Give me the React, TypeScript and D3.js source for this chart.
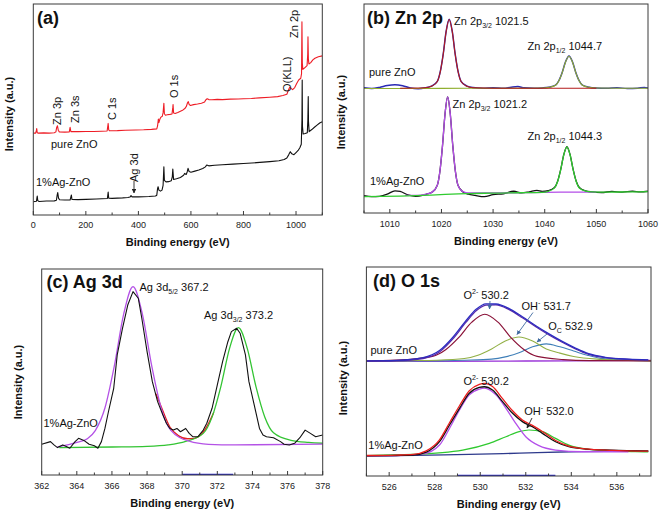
import React from 'react';
import * as d3 from 'd3';

type Pt = [number, number];

// ---------------- (a) survey spectra ----------------
const surveyTicks = [0, 200, 400, 600, 800, 1000];
const surveyMinor = [100, 300, 500, 700, 900, 1100];
const surveyPure: Pt[] = [
  [0,38.7],[5,38.9],[9,38.8],[12,40.2],[13,41.0],[15,39.0],[18,38.8],[40,38.9],[60,38.8],[80,39.0],[86,39.4],[89,41.5],[92,42.3],[95,40.2],[99,39.4],
  [120,39.3],[137,39.4],[140,41.6],[143,39.5],[170,39.5],[200,39.6],[230,39.6],[260,39.7],[281,39.8],[284,42.5],[285,43.4],[287,40.4],[290,39.9],
  [320,40.0],[350,40.2],[390,40.3],[420,40.4],[450,40.6],[470,40.8],[473,42.2],[476,45.5],[478,43.8],[482,45.5],[486,46.4],[491,46.8],[494,48.5],
  [497,52.9],[499,48.0],[503,47.3],[510,47.5],[520,47.7],[528,47.9],[531,51.0],[532,52.4],[534,48.3],[540,48.1],[550,48.6],[560,49.2],[570,49.8],
  [578,50.6],[583,51.6],[587,53.2],[590,53.7],[593,52.4],[598,51.9],[610,52.3],[625,52.6],[640,53.0],[652,53.6],[657,54.6],[662,55.1],[668,54.7],
  [680,54.6],[700,54.8],[720,54.7],[750,54.9],[780,55.0],[800,55.1],[830,55.2],[860,55.5],[900,55.8],[930,56.1],[950,56.6],[965,57.2],[972,59.5],
  [976,60.6],[981,60.0],[987,59.4],[995,60.4],[1002,62.2],[1010,64.0],[1018,64.8],[1021,67.0],[1022.5,91.6],[1024,72.0],[1026,69.0],[1035,70.0],
  [1042,70.8],[1044.5,76.0],[1045.5,84.5],[1047,74.0],[1049,71.6],[1056,72.2],[1064,73.5],[1072,74.3],[1085,75.0],[1100,75.4]
];
const surveyAg: Pt[] = [
  [0,6.3],[6,6.4],[12,6.5],[14,8.2],[15,9.0],[17,6.8],[22,6.4],[50,6.6],[80,6.7],[88,7.0],[91,9.5],[93,10.6],[96,8.0],[100,7.2],[120,7.1],[140,7.1],
  [143,8.6],[145,9.5],[147,7.4],[170,7.3],[200,7.4],[240,7.6],[282,7.8],[285,10.9],[287,8.0],[300,7.9],[340,8.1],[360,8.3],[368,8.5],[372,9.2],
  [376,8.6],[400,8.6],[440,8.8],[465,9.0],[470,9.4],[473,12.5],[475,13.4],[478,11.8],[484,11.3],[490,11.8],[494,14.0],[497,22.9],[499,16.4],
  [505,15.7],[515,15.8],[525,16.2],[529,18.0],[531,21.8],[534,16.8],[545,17.2],[560,17.8],[572,18.8],[576,19.7],[582,19.2],[586,20.5],[589,22.1],
  [593,20.6],[600,20.3],[615,20.8],[630,21.3],[645,22.0],[655,22.8],[660,23.7],[668,23.3],[690,23.6],[720,23.8],[760,24.1],[800,24.4],[850,24.8],
  [900,25.3],[935,25.7],[955,26.3],[965,27.0],[972,28.5],[978,30.0],[984,29.0],[992,28.6],[1000,29.6],[1008,30.6],[1015,32.0],[1020,33.5],
  [1022.5,45.0],[1023.5,64.0],[1024.5,42.0],[1027,38.4],[1035,38.6],[1043,39.0],[1045,45.0],[1046.5,56.1],[1047.5,44.0],[1050,39.5],[1060,40.5],
  [1070,41.6],[1080,42.6],[1090,43.6],[1100,44.2]
];

// ---------------- (b) Zn 2p ----------------
const zn2pTicks = [1010, 1020, 1030, 1040, 1050, 1060];
const zn2pMinor = [1005, 1015, 1025, 1035, 1045, 1055];
const zn2pPureMeas: Pt[] = [
  [1005,59.9],[1006.5,59.6],[1008,60.1],[1009.5,61.0],[1011,61.4],[1012.5,60.9],[1014,59.8],[1015.5,59.5],[1016.9,59.9],[1018.05,60.7],[1019.2,63.0],
  [1019.77,67.6],[1020.35,76.2],[1020.92,87.1],[1021.5,92.7],[1022.08,87.1],[1022.65,76.2],[1023.23,67.6],[1023.8,63.0],[1024.95,60.7],[1026.1,60.0],
  [1028,59.7],[1030,59.9],[1032,59.7],[1033.5,60.2],[1034.8,60.5],[1036,59.9],[1038,59.7],[1039.5,59.85],[1040.8,60.2],[1042.1,61.2],[1042.75,63.4],
  [1043.4,67.4],[1044.05,72.5],[1044.7,75.1],[1045.35,72.5],[1046,67.4],[1046.65,63.4],[1047.3,61.2],[1048.6,60.2],[1049.9,59.85],[1052,59.7],
  [1054,59.9],[1056,59.6],[1058,59.7],[1059.3,60.1],[1060,59.8]
];
const zn2pPureFit32: Pt[] = [
  [1012,59.7],[1016.9,59.9],[1018.05,60.6],[1019.2,62.9],[1019.77,67.5],[1020.35,76.1],[1020.92,87.0],[1021.5,92.6],[1022.08,87.0],[1022.65,76.1],
  [1023.23,67.5],[1023.8,62.9],[1024.95,60.6],[1026.1,59.9],[1030,59.7],[1040,59.7],[1050,59.7]
];
const zn2pPureFit12: Pt[] = [
  [1005,59.6],[1015,59.6],[1025,59.7],[1035,59.7],[1039.5,59.8],[1040.8,60.1],[1042.1,61.1],[1042.75,63.3],[1043.4,67.3],[1044.05,72.4],[1044.7,75.0],
  [1045.35,72.4],[1046,67.3],[1046.65,63.3],[1047.3,61.1],[1048.6,60.1],[1049.9,59.8],[1055,59.7],[1060,59.7]
];
const zn2pAgMeas: Pt[] = [
  [1005,8.3],[1006.5,7.8],[1008,8.0],[1009.5,9.0],[1011,10.6],[1012,10.3],[1013.5,8.7],[1015,8.0],[1016.3,8.4],[1017.2,9.1],[1018.2,10.0],[1019.2,13.3],
  [1019.7,19.9],[1020.2,32.1],[1020.7,47.6],[1021.2,55.6],[1021.7,47.6],[1022.2,32.1],[1022.7,19.9],[1023.2,13.3],[1024.2,10.0],[1025.2,9.0],
  [1026.5,8.4],[1028.3,7.8],[1030,8.8],[1032,9.2],[1034,10.4],[1035.5,9.6],[1037,10.1],[1038.5,10.8],[1039.5,10.3],[1040.7,10.7],[1041.9,12.2],
  [1042.5,15.2],[1043.1,20.9],[1043.7,28.0],[1044.3,31.7],[1044.9,28.0],[1045.5,20.9],[1046.1,15.2],[1046.7,12.2],[1047.9,10.6],[1049.1,10.1],
  [1051,9.8],[1053,10.3],[1055,10.0],[1057,10.4],[1058.5,10.1],[1060,10.4]
];
const zn2pAgFit32: Pt[] = [
  [1013,8.4],[1016,8.6],[1017.2,9.1],[1018.2,10.0],[1019.2,13.3],[1019.7,19.9],[1020.2,32.1],[1020.7,47.6],[1021.2,55.6],[1021.7,47.6],[1022.2,32.1],
  [1022.7,19.9],[1023.2,13.3],[1024.2,10.2],[1025.2,9.6],[1030,9.6],[1040,9.9],[1050,10.0]
];
const zn2pAgFit12: Pt[] = [
  [1005,7.8],[1012,8.1],[1018,8.6],[1022,9.0],[1025,9.3],[1030,9.5],[1035,9.7],[1039.5,9.9],[1040.7,10.4],[1041.9,12.0],[1042.5,15.1],[1043.1,20.8],
  [1043.7,27.9],[1044.3,31.6],[1044.9,27.9],[1045.5,20.8],[1046.1,15.1],[1046.7,12.0],[1047.9,10.5],[1049.1,10.1],[1052,10.0],[1056,10.1],[1060,10.2]
];

// ---------------- (c) Ag 3d ----------------
const ag3dTicks = [362, 364, 366, 368, 370, 372, 374, 376, 378];
const ag3dMinor = [363, 365, 367, 369, 371, 373, 375, 377];
const ag3dMeas: Pt[] = [
  [362.0,14.9],[362.5,16.2],[362.7,14.6],[362.9,13.3],[363.2,14.6],[363.4,13.8],[363.6,13.0],[363.9,16.2],[364.1,17.8],[364.4,16.8],[364.7,14.9],
  [365.0,14.2],[365.2,13.0],[365.4,16.2],[365.6,22.6],[365.8,30.7],[366.1,42.1],[366.3,58.3],[366.6,71.2],[366.9,82.5],[367.2,89.0],[367.5,85.8],
  [367.7,76.1],[368.0,59.9],[368.3,45.3],[368.6,35.6],[368.9,29.1],[369.1,25.1],[369.3,22.6],[369.5,21.8],[369.7,22.6],[369.9,21.0],[370.2,22.6],
  [370.4,20.2],[370.6,18.6],[370.9,18.6],[371.2,21.8],[371.4,25.1],[371.7,32.4],[372.0,43.7],[372.3,55.0],[372.6,64.7],[372.8,69.6],[373.1,71.2],
  [373.3,68.8],[373.6,58.3],[373.8,45.3],[374.1,34.0],[374.4,22.6],[374.6,19.4],[374.8,18.6],[375.2,18.1],[375.6,16.2],[375.8,14.9],[376.1,14.6],
  [376.4,15.4],[376.7,18.1],[377.0,21.8],[377.3,20.2],[377.6,18.6],[378.0,19.4]
];
const ag3dFit52: Pt[] = [
  [362.9,13.6],[364.0,15.8],[364.6,17.6],[365.06,21.7],[365.6,32.5],[366.13,52.7],[366.67,78.2],[367.2,91.4],[367.73,78.2],[368.27,52.7],
  [368.8,32.6],[369.34,21.8],[370.4,16.4],[371.5,14.9],[373,14.6],[378,15.0]
];
const ag3dFit32: Pt[] = [
  [363,13.3],[366,13.6],[368,13.9],[369.2,14.6],[370.2,16.3],[371.2,20.2],[371.7,28.1],[372.2,42.9],[372.7,61.6],[373.2,71.5],[373.7,61.6],
  [374.2,42.9],[374.7,28.2],[375.2,20.5],[376.2,16.8],[377.2,15.8],[378,15.4]
];
const ag3dEnvelope: Pt[] = [
  [368.5,39.5],[368.8,33.3],[369.3,23.3],[369.8,19.0],[370.3,17.6],[370.7,17.8],[371.0,19.0],[371.4,23.5],[371.8,30.5]
];
const ag3dAxisTrace: Pt[] = [[370.0,0.2],[372.9,0.2]];

// ---------------- (d) O 1s ----------------
const o1sTicks = [526, 528, 530, 532, 534, 536];
const o1sMinor = [525, 527, 529, 531, 533, 535, 537];
const o1sPureMeas: Pt[] = [
  [525.01,55.1],[526.32,55.3],[527.49,56.6],[528.21,60.0],[528.8,66.4],[529.38,74.4],[529.82,79.8],[530.25,82.4],[530.69,82.3],[531.27,80.1],
  [531.85,76.2],[532.44,71.9],[533.02,68.0],[533.6,64.4],[534.18,61.2],[534.76,58.5],[535.49,56.8],[536.51,55.9],[537.38,55.6]
];
const o1sPureEnv: Pt[] = [
  [525.01,54.9],[526.32,55.1],[527.49,56.2],[528.21,59.3],[528.8,65.6],[529.38,73.6],[529.82,79.0],[530.25,81.8],[530.69,81.9],[531.27,79.6],
  [531.85,75.7],[532.44,71.4],[533.02,67.5],[533.6,64.0],[534.18,60.8],[534.76,58.2],[535.49,56.6],[536.51,55.8],[537.38,55.5]
];
const o1sPureO2: Pt[] = [
  [525.0,55.1],[525.6,55.2],[526.75,55.7],[527.9,57.2],[528.48,60.4],[529.05,66.2],[529.63,73.6],[530.2,77.4],[530.78,73.6],[531.35,66.2],
  [531.93,60.4],[532.5,57.2],[533.65,55.7],[534.8,55.2],[537.5,55.1]
];
const o1sPureOH: Pt[] = [
  [525,55.0],[526.9,55.2],[528.1,55.4],[529.3,56.2],[529.9,57.8],[530.5,60.8],[531.1,64.6],[531.7,66.5],[532.3,64.6],[532.9,60.8],[533.5,58.8],
  [534.1,57.2],[535.3,55.8],[536.5,55.3],[537.5,55.1]
];
const o1sPureOc: Pt[] = [
  [525,55.0],[528.1,55.1],[529.3,55.4],[530.5,55.9],[531.1,57.0],[531.7,59.0],[532.3,61.8],[532.9,63.2],[533.5,61.8],[534.1,59.8],[534.7,57.8],
  [535.3,56.3],[536.5,55.4],[537.5,55.1]
];
const o1sPureBase: Pt[] = [[525,54.8],[528,54.9],[531,55.0],[534,55.1],[537.5,55.3]];
const o1sAgMeas: Pt[] = [
  [525.01,9.6],[526.32,9.8],[527.05,10.0],[527.63,11.4],[528.21,16.4],[528.65,24.4],[529.09,32.4],[529.52,39.6],[529.96,42.4],[530.18,42.7],
  [530.54,41.1],[530.98,35.6],[531.42,30.0],[531.85,26.0],[532.29,23.6],[532.73,20.4],[533.31,16.4],[533.89,14.0],[534.62,12.9],[535.78,12.4],
  [537.38,12.0]
];
const o1sAgEnv: Pt[] = [
  [525.01,9.8],[526.32,10.0],[527.05,10.3],[527.63,12.0],[528.21,17.3],[528.65,25.5],[529.09,33.6],[529.52,40.8],[529.96,43.8],[530.18,44.3],
  [530.54,42.8],[530.98,37.0],[531.42,31.2],[531.85,26.8],[532.29,24.2],[532.73,21.3],[533.31,17.0],[533.89,14.3],[534.62,13.0],[535.78,12.3],
  [537.38,11.9]
];
const o1sAgO2: Pt[] = [
  [525.01,9.6],[526.32,9.8],[527.49,10.6],[528.21,14.8],[528.65,22.8],[529.09,31.6],[529.52,38.8],[529.96,41.6],[530.18,42.0],[530.69,38.8],
  [531.13,32.4],[531.56,25.2],[532.0,18.8],[532.58,14.5],[533.31,12.4],[534.47,11.6],[536.51,11.6]
];
const o1sAgOH: Pt[] = [
  [525.01,9.8],[527.05,10.3],[529.23,12.4],[530.4,15.6],[531.13,18.8],[531.71,21.2],[532.14,22.0],[532.73,21.2],[533.31,18.0],[533.89,14.8],
  [534.76,12.8],[535.93,12.0],[536.8,11.6],[537.38,11.5]
];
const o1sAgBase: Pt[] = [[525.01,9.6],[527.78,10.0],[529.5,10.3],[531,10.7],[532.5,11.2],[534,11.6],[535.5,11.8],[537.38,11.8]];
const o1sAxisTrace: Pt[] = [[529.0,0.2],[533.3,0.2]];

// ---------------- rendering ----------------
const FONT = "'Liberation Sans', Arial, Helvetica, sans-serif";

interface Series { data: Pt[]; color: string; w?: number; linear?: boolean }
interface Box { l: number; r: number; t: number; b: number }

function Panel(props: {
  id: string; box: Box; domain: [number, number]; ticks: number[]; minor: number[];
  yTitleX: number; yTitleY: number; tickLabelY: number; xTitleY: number; series: Series[];
}) {
  const { id, box, domain, ticks, minor, yTitleX, yTitleY, tickLabelY, xTitleY, series } = props;
  const x = d3.scaleLinear().domain(domain).range([box.l, box.r]);
  const y = d3.scaleLinear().domain([0, 100]).range([box.b, box.t]);
  const mk = (s: Series) =>
    d3.line<Pt>().x(d => x(d[0])).y(d => y(d[1])).curve(s.linear ? d3.curveLinear : d3.curveMonotoneX)(s.data) || '';
  return (
    <g>
      <defs>
        <clipPath id={id}><rect x={box.l} y={box.t} width={box.r - box.l} height={box.b - box.t} /></clipPath>
      </defs>
      <g clipPath={`url(#${id})`}>
        {series.map((s, i) => (
          <path key={i} d={mk(s)} fill="none" stroke={s.color} strokeWidth={s.w ?? 1.2} strokeLinejoin="round" />
        ))}
      </g>
      <rect x={box.l} y={box.t} width={box.r - box.l} height={box.b - box.t} fill="none" stroke="#3a3a3a" strokeWidth={1} />
      {ticks.map(t => (
        <g key={'t' + t}>
          <line x1={x(t)} x2={x(t)} y1={box.b} y2={box.b - 4} stroke="#3a3a3a" strokeWidth={1} />
          <text x={x(t)} y={tickLabelY} fontSize={9} textAnchor="middle" fill="#222">{d3.format('d')(t)}</text>
        </g>
      ))}
      {minor.map(t => (
        <line key={'m' + t} x1={x(t)} x2={x(t)} y1={box.b} y2={box.b - 2.5} stroke="#3a3a3a" strokeWidth={1} />
      ))}
      <text x={(box.l + box.r) / 2} y={xTitleY} fontSize={11} fontWeight="bold" textAnchor="middle" fill="#111">Binding energy (eV)</text>
      <text transform={`translate(${yTitleX},${yTitleY}) rotate(-90)`} fontSize={11} fontWeight="bold" textAnchor="middle" fill="#111">Intensity (a.u.)</text>
    </g>
  );
}

function RotLabel({ x, y, children }: { x: number; y: number; children: React.ReactNode }) {
  return <text transform={`translate(${x},${y}) rotate(-90)`} fontSize={11} fill="#111">{children}</text>;
}

function Sub({ main, sub, rest, x, y, up }: { main: string; sub: string; rest: string; x: number; y: number; up?: boolean }) {
  const d = up ? -5 : 3;
  return (
    <text x={x} y={y} fontSize={11} fill="#111">
      {main}<tspan fontSize={7} dy={d}>{sub}</tspan><tspan dy={-d}>{rest}</tspan>
    </text>
  );
}

export default function App() {
  return (
    <svg width={661} height={515} viewBox="0 0 661 515" fontFamily={FONT}
      style={{ position: 'absolute', left: 0, top: 0, background: '#fff' }}>
      <defs>
        <marker id="arrB" viewBox="0 0 10 10" refX="9" refY="5" markerWidth="5" markerHeight="5" orient="auto-start-reverse">
          <path d="M0,0 L10,5 L0,10 z" fill="#3f6aa0" />
        </marker>
        <marker id="arrK" viewBox="0 0 10 10" refX="9" refY="5" markerWidth="5" markerHeight="5" orient="auto-start-reverse">
          <path d="M0,0 L10,5 L0,10 z" fill="#222" />
        </marker>
      </defs>
      <rect width={661} height={515} fill="#fff" />

      {/* (a) */}
      <Panel id="ca" box={{ l: 33.3, r: 322.3, t: 4, b: 215 }} domain={[0, 1100]} ticks={surveyTicks} minor={surveyMinor}
        yTitleX={13} yTitleY={114} tickLabelY={228} xTitleY={246}
        series={[
          { data: surveyAg, color: '#111', w: 1.1, linear: true },
          { data: surveyPure, color: '#ee1c25', w: 1.1, linear: true },
        ]} />
      <text x={37} y={24} fontSize={18} fontWeight="bold" fill="#111">(a)</text>
      <RotLabel x={60.5} y={125}>Zn 3p</RotLabel>
      <RotLabel x={78.5} y={123}>Zn 3s</RotLabel>
      <RotLabel x={116} y={120}>C 1s</RotLabel>
      <RotLabel x={178} y={98}>O 1s</RotLabel>
      <RotLabel x={291} y={92}>O(KLL)</RotLabel>
      <RotLabel x={298} y={38}>Zn 2p</RotLabel>
      <RotLabel x={138} y={182}>Ag 3d</RotLabel>
      <line x1={134} y1={181} x2={134} y2={193} stroke="#222" strokeWidth={0.9} markerEnd="url(#arrK)" />
      <text x={51} y={148} fontSize={11} fill="#111">pure ZnO</text>
      <text x={36} y={186} fontSize={11} fill="#111">1%Ag-ZnO</text>

      {/* (b) */}
      <Panel id="cb" box={{ l: 364, r: 648, t: 4, b: 213 }} domain={[1005, 1060]} ticks={zn2pTicks} minor={zn2pMinor}
        yTitleX={345} yTitleY={112} tickLabelY={227} xTitleY={245}
        series={[
          { data: zn2pPureMeas, color: '#2a2ab4', w: 1.5 },
          { data: zn2pPureFit12, color: '#8fae2e', w: 1.1 },
          { data: zn2pPureFit32, color: '#b31b1b', w: 1.1 },
          { data: zn2pAgMeas, color: '#111', w: 1.3 },
          { data: zn2pAgFit32, color: '#b44ee8', w: 1.3 },
          { data: zn2pAgFit12, color: '#2fcb2f', w: 1.3 },
        ]} />
      <text x={367} y={24} fontSize={18} fontWeight="bold" fill="#111">(b) Zn 2p</text>
      <Sub x={454} y={25} main="Zn 2p" sub="3/2" rest=" 1021.5" />
      <Sub x={527.5} y={50} main="Zn 2p" sub="1/2" rest=" 1044.7" />
      <text x={369} y={76} fontSize={11} fill="#111">pure ZnO</text>
      <Sub x={452.5} y={107.5} main="Zn 2p" sub="3/2" rest=" 1021.2" />
      <Sub x={527.5} y={140} main="Zn 2p" sub="1/2" rest=" 1044.3" />
      <text x={370} y={185} fontSize={11} fill="#111">1%Ag-ZnO</text>

      {/* (c) */}
      <Panel id="cc" box={{ l: 41.7, r: 322.7, t: 269, b: 475 }} domain={[362, 378]} ticks={ag3dTicks} minor={ag3dMinor}
        yTitleX={21.5} yTitleY={382} tickLabelY={489} xTitleY={507}
        series={[
          { data: ag3dAxisTrace, color: '#2a2ad0', w: 1.5, linear: true },
          { data: ag3dEnvelope, color: '#e32222', w: 1.3 },
          { data: ag3dFit32, color: '#33c433', w: 1.3 },
          { data: ag3dFit52, color: '#b452e6', w: 1.3 },
          { data: ag3dMeas, color: '#111', w: 1.1, linear: true },
        ]} />
      <text x={46.5} y={288} fontSize={18} fontWeight="bold" fill="#111">(c) Ag 3d</text>
      <Sub x={139.5} y={291} main="Ag 3d" sub="5/2" rest=" 367.2" />
      <Sub x={204} y={319} main="Ag 3d" sub="3/2" rest=" 373.2" />
      <text x={43.5} y={427} fontSize={11} fill="#111">1%Ag-ZnO</text>

      {/* (d) */}
      <Panel id="cd" box={{ l: 366.4, r: 651, t: 267, b: 476 }} domain={[525, 537.5]} ticks={o1sTicks} minor={o1sMinor}
        yTitleX={346.5} yTitleY={378} tickLabelY={490} xTitleY={508}
        series={[
          { data: o1sAxisTrace, color: '#2a2ad0', w: 1.5, linear: true },
          { data: o1sPureBase, color: '#9a34d8', w: 1.3 },
          { data: o1sPureOc, color: '#3f7fb8', w: 1.1 },
          { data: o1sPureOH, color: '#92b046', w: 1.1 },
          { data: o1sPureO2, color: '#8a1238', w: 1.2 },
          { data: o1sPureEnv, color: '#5a2aa8', w: 1.2 },
          { data: o1sPureMeas, color: '#2c2cc0', w: 1.3 },
          { data: o1sAgBase, color: '#2e3a8c', w: 1.3 },
          { data: o1sAgOH, color: '#2fc92f', w: 1.2 },
          { data: o1sAgO2, color: '#b450ea', w: 1.3 },
          { data: o1sAgMeas, color: '#111', w: 1.3 },
          { data: o1sAgEnv, color: '#ea1e1e', w: 1.3 },
        ]} />
      <text x={373} y={287} fontSize={18} fontWeight="bold" fill="#111">(d) O 1s</text>
      <Sub x={463.5} y={298.5} main="O" sub="2-" rest=" 530.2" up />
      <line x1={490} y1={301} x2={489.5} y2={309} stroke="#3f6aa0" strokeWidth={0.9} markerEnd="url(#arrB)" />
      <Sub x={521.5} y={309.5} main="OH" sub="-" rest=" 531.7" up />
      <line x1={533} y1={312.5} x2={517} y2={334.5} stroke="#3f6aa0" strokeWidth={0.9} markerEnd="url(#arrB)" />
      <Sub x={548.3} y={330} main="O" sub="C" rest=" 532.9" />
      <line x1={547} y1={334} x2={537} y2={342} stroke="#3f6aa0" strokeWidth={0.9} markerEnd="url(#arrB)" />
      <text x={370.5} y={353.5} fontSize={11} fill="#111">pure ZnO</text>
      <Sub x={463.5} y={385} main="O" sub="2-" rest=" 530.2" up />
      <Sub x={524.3} y={415} main="OH" sub="-" rest=" 532.0" up />
      <line x1={532} y1={418} x2={527} y2={428} stroke="#222" strokeWidth={0.9} markerEnd="url(#arrK)" />
      <text x={368.3} y={449} fontSize={11} fill="#111">1%Ag-ZnO</text>
    </svg>
  );
}
